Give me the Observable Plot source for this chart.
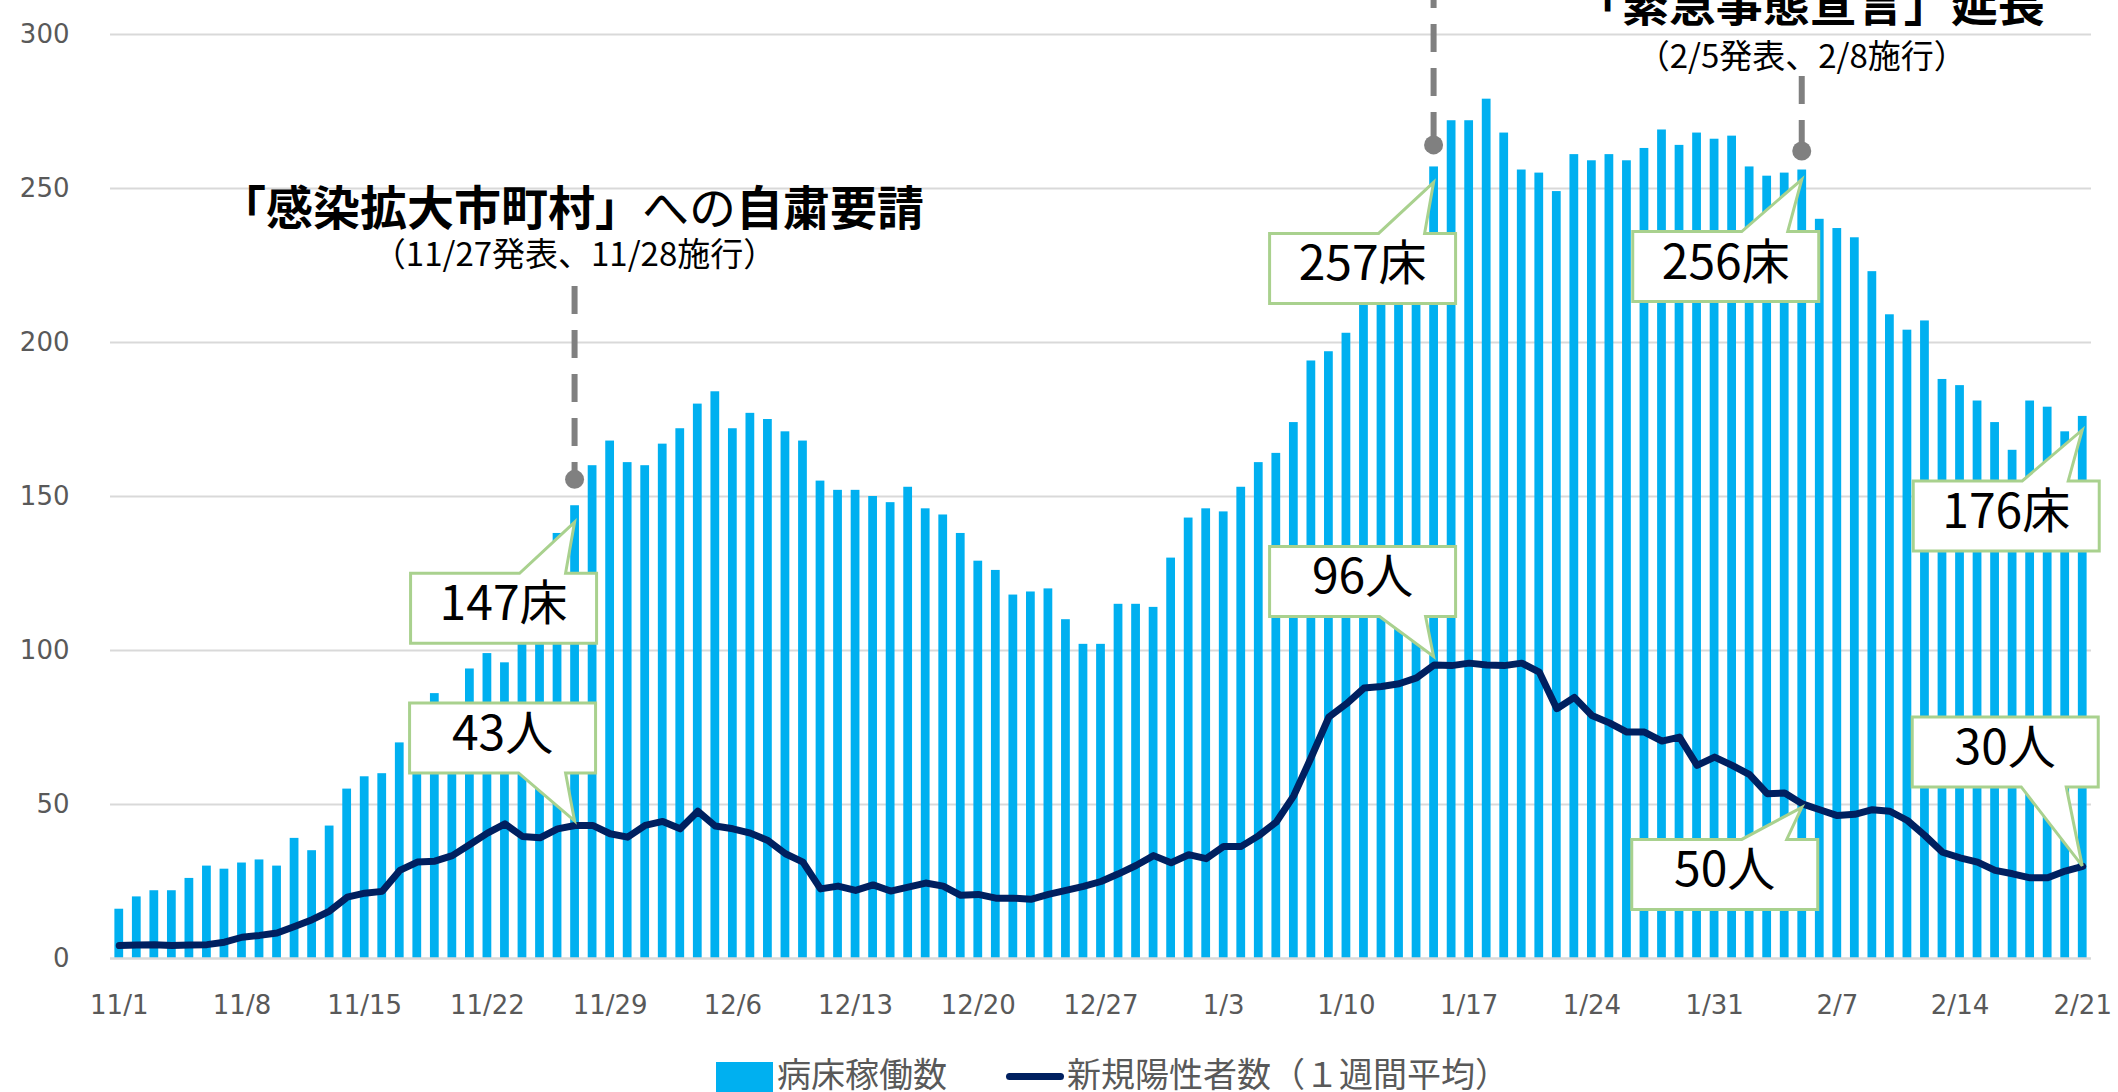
<!DOCTYPE html>
<html>
<head>
<meta charset="utf-8">
<script src="https://cdn.jsdelivr.net/npm/d3@7"></script>
<script src="https://cdn.jsdelivr.net/npm/@observablehq/plot@0.6"></script>
<style>
  html, body { margin: 0; padding: 0; background: #fff; overflow: hidden; }
  body { width: 2118px; height: 1092px; font-family: "Noto Sans CJK JP", "Noto Sans", sans-serif; }
  #chart svg { display: block; }
  #legend { position: relative; width: 2118px; height: 52px; overflow: hidden; color: #595959; font-size: 34px; }
  #legend .sw { position: absolute; }
  #legend .lbl { position: absolute; line-height: 1; white-space: nowrap; }
</style>
</head>
<body>
<div id="chart"></div>
<div id="legend"></div>
<script>
// ---- categories (dates 11/1 .. 2/21) ----
const monthDays = [[11, 30], [12, 31], [1, 31], [2, 21]];
const dates = monthDays.flatMap(([m, n]) => d3.range(1, n + 1).map(d => `${m}/${d}`));
const xTickLabels = dates.filter((d, i) => i % 7 === 0);
const yTicks = [0, 50, 100, 150, 200, 250, 300];

// ---- series: 病床稼働数 ----
const beds = [
  16, 20, 22, 22, 26, 30, 29, 31, 32, 30, 39, 35, 43, 55, 59, 60, 70, 77, 86, 80,
  94, 99, 96, 106, 116, 138, 147, 160, 168, 161,
  160, 167, 172, 180, 184, 172, 177, 175, 171, 168, 155, 152, 152, 150, 148, 153, 146, 144, 138, 129,
  126, 118, 119, 120, 110, 102, 102, 115, 115, 114, 130,
  143, 146, 145, 153, 161, 164, 174, 194, 197, 203, 214, 222, 230, 240, 257, 272, 272, 279, 268,
  256, 255, 249, 261, 259, 261, 259, 263, 269, 264, 268, 266,
  267, 257, 254, 255, 256, 240, 237, 234, 223, 209, 204, 207, 188, 186, 181, 174, 165, 181, 179, 171, 176
];
// ---- series: 新規陽性者数（１週間平均） ----
const cases = [
  4.2, 4.4, 4.5, 4.2, 4.4, 4.5, 5.3, 6.9, 7.5, 8.3, 10.4, 12.6, 15.4, 19.9, 21.2, 21.8, 28.6, 31.3, 31.6, 33.4,
  37, 40.7, 43.7, 39.6, 39.2, 42.1, 43.2, 43.2, 40.5, 39.4,
  43.2, 44.5, 42.1, 47.8, 43.0, 42.1, 40.7, 38.3, 34, 31.3, 22.6, 23.5, 22.1, 23.9, 21.9, 23.2, 24.5, 23.5, 20.5, 20.8,
  19.6, 19.6, 19.2, 20.8, 22.1, 23.4, 25, 27.5, 30.2, 33.4, 31.1,
  33.7, 32.4, 36.4, 36.4, 39.9, 44.3, 52.9, 65.4, 78.4, 82.7, 87.8, 88.3, 89.2, 91.1, 95.3, 95.1, 95.9, 95.3, 95.1, 95.9,
  93.0, 81.1, 84.8, 78.9, 76.5, 73.5, 73.5, 70.6, 71.9, 62.7, 65.4,
  62.7, 59.7, 53.5, 53.7, 50.2, 48.3, 46.4, 46.8, 48.3, 47.8, 44.8, 39.9, 34.5, 32.7, 31.3, 28.6, 27.5, 26.2, 26.2, 28.4, 29.9
];
const seriesNames = ["病床稼働数", "新規陽性者数（１週間平均）"];

// ---- callouts ----
const calloutText = ["147床", "257床", "256床", "176床", "43人", "96人", "50人", "30人"];
const calloutDate = ["11/27", "1/15", "2/5", "2/21", "11/27", "1/15", "2/5", "2/21"];
const calloutSeries = ["beds", "beds", "beds", "beds", "cases", "cases", "cases", "cases"];

// ---- event annotations ----
const eventDate = ["11/27", "1/15", "2/5"];
const eventMarkerValue = [155.4, 264, 262];
const eventTitle = [
  [["「感染拡大市町村」", 700], ["への", 400], ["自粛要請", 700]],
  [],
  [["「緊急事態宣言」延長", 700]]
];
const eventSub = ["（11/27発表、11/28施行）", "", "（2/5発表、2/8施行）"];

const table = dates.map((d, i) => ({date: d, beds: beds[i], cases: cases[i]}));

const FONT = '"Noto Sans CJK JP", "Noto Sans", sans-serif';
const AXISFONT = '"DejaVu Sans", Verdana, sans-serif';
const plot = Plot.plot({
  width: 2118,
  height: 1040,
  marginTop: 34,
  marginBottom: 82,
  marginLeft: 110,
  marginRight: 27,
  style: {fontFamily: AXISFONT, fontSize: "26px", color: "#595959", background: "white"},
  x: {type: "band", domain: dates, paddingInner: 0.5, paddingOuter: 0.25, ticks: xTickLabels, tickSize: 0, tickPadding: 37, label: null},
  y: {domain: [0, 300], ticks: yTicks, tickSize: 0, tickPadding: 41, label: null},
  marks: [
    Plot.ruleY(yTicks.filter(v => v > 0), {stroke: "#d9d9d9", strokeWidth: 2}),
    Plot.barY(table, {x: "date", y: "beds", fill: "#00B0F0"}),
    Plot.ruleY([0], {stroke: "#d9d9d9", strokeWidth: 2.5}),
    Plot.line(table, {x: "date", y: "cases", stroke: "#002060", strokeWidth: 7, strokeLinejoin: "round", strokeLinecap: "round"})
  ]
});
document.getElementById("chart").appendChild(plot);

// ---- overlays positioned through the plot's scales ----
const xs = plot.scale("x"), ys = plot.scale("y");
const bw = xs.bandwidth || 0;
const cx = d => xs.apply(d) + bw / 2;
const cy = v => ys.apply(v);
const svg = d3.select(plot);
const ov = svg.append("g").attr("font-family", FONT);

// event lines + markers + titles
const eventLayout = [
  {lineTop: 286, titleDx: -3, titleY: 225, subY: 266},
  {lineTop: -20, titleDx: 0, titleY: 0, subY: 0},
  {lineTop: 76, titleDx: 8, titleY: 21, subY: 68}
];
eventDate.forEach((d, i) => {
  const x = cx(d), yDot = cy(eventMarkerValue[i]), L = eventLayout[i];
  ov.append("line").attr("x1", x).attr("x2", x).attr("y1", L.lineTop).attr("y2", yDot)
    .attr("stroke", "#808080").attr("stroke-width", 6).attr("stroke-dasharray", "28,16");
  ov.append("circle").attr("cx", x).attr("cy", yDot).attr("r", 9.5).attr("fill", "#808080");
  if (eventTitle[i].length) {
    const t = ov.append("text").attr("x", x + L.titleDx).attr("y", L.titleY)
      .attr("text-anchor", "middle").attr("font-size", 47).attr("fill", "#000");
    eventTitle[i].forEach(([s, w]) => t.append("tspan").attr("font-weight", w).text(s));
  }
  if (eventSub[i]) {
    ov.append("text").attr("x", x).attr("y", L.subY).attr("text-anchor", "middle")
      .attr("font-size", 33).attr("fill", "#000").text(eventSub[i]);
  }
});

// callout boxes
const calloutLayout = [
  {tipDy: 17, side: "below", gap: 51, left: -164, tail: [-55, -9]},
  {tipDy: 16, side: "below", gap: 51, left: -164, tail: [-55, -9]},
  {tipDy: 10, side: "below", gap: 52, left: -169, tail: [-60, -14]},
  {tipDy: 14, side: "below", gap: 51, left: -169, tail: [-60, -14]},
  {tipDy: -4, side: "above", gap: 48, left: -165, tail: [-56, -9]},
  {tipDy: -8, side: "above", gap: 40, left: -164, tail: [-54, -8]},
  {tipDy: 4, side: "below", gap: 32, left: -170, tail: [-60, -15]},
  {tipDy: 0, side: "above", gap: 79, left: -170, tail: [-61, -16]}
];
const BW = 186, BH = 70;
calloutText.forEach((txt, i) => {
  const d = calloutDate[i], idx = dates.indexOf(d);
  const v = calloutSeries[i] === "beds" ? beds[idx] : cases[idx];
  const L = calloutLayout[i];
  const tx = cx(d), ty = cy(v) + L.tipDy;
  const left = tx + L.left, right = left + BW;
  const t1 = tx + L.tail[0], t2 = tx + L.tail[1];
  let top, bottom, path;
  if (L.side === "below") {
    top = ty + L.gap; bottom = top + BH;
    path = `M${left},${top}L${t1},${top}L${tx},${ty}L${t2},${top}L${right},${top}L${right},${bottom}L${left},${bottom}Z`;
  } else {
    bottom = ty - L.gap; top = bottom - BH;
    path = `M${left},${top}L${right},${top}L${right},${bottom}L${t2},${bottom}L${tx},${ty}L${t1},${bottom}L${left},${bottom}Z`;
  }
  ov.append("path").attr("d", path).attr("fill", "#fff").attr("stroke", "#A9D18E")
    .attr("stroke-width", 3).attr("stroke-linejoin", "miter");
  ov.append("text").attr("x", (left + right) / 2).attr("y", (top + bottom) / 2 - 9)
    .attr("text-anchor", "middle").attr("dominant-baseline", "central")
    .attr("font-size", 48).attr("fill", "#000").text(txt);
});

// ---- legend (below the SVG) ----
const lg = document.getElementById("legend");
lg.innerHTML = `
  <div class="sw" style="left:716px;top:22px;width:57px;height:40px;background:#00B0F0"></div>
  <div class="lbl" style="left:777px;top:16px;">${seriesNames[0]}</div>
  <div class="sw" style="left:1006px;top:33px;width:58px;height:7px;border-radius:4px;background:#002060"></div>
  <div class="lbl" style="left:1067px;top:16px;">${seriesNames[1]}</div>`;
</script>
</body>
</html>
